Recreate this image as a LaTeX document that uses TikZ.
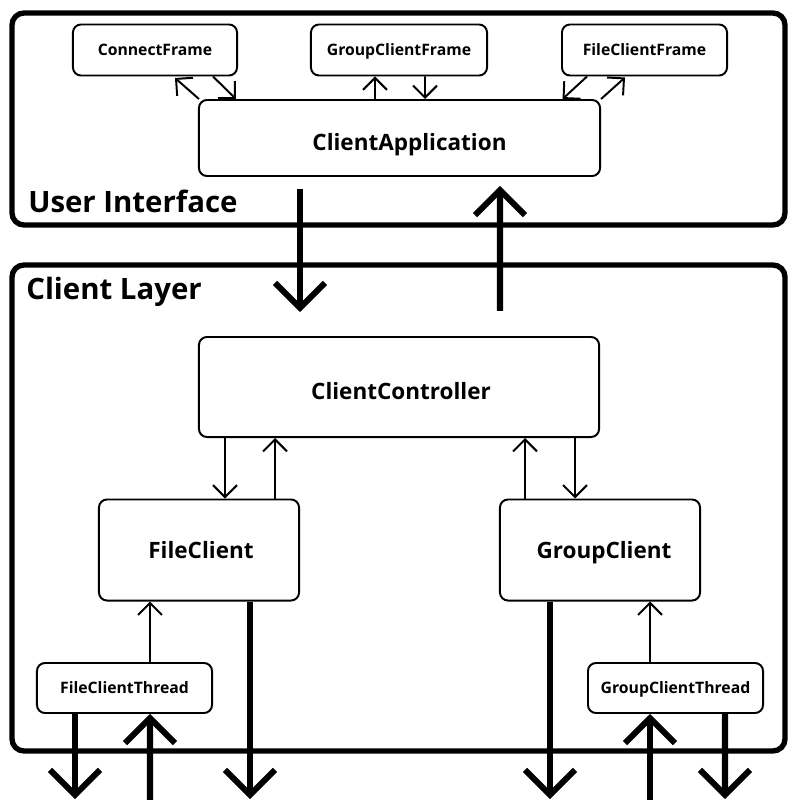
\documentclass[tikz,border=0pt]{standalone}
\usepackage{fontspec}
\setmainfont{Open Sans}
\usetikzlibrary{arrows.meta,calc}

\tikzset{
  box/.style={draw, line width=1.4pt, rounded corners=0.2cm, inner sep=0pt, fill=white, text depth=0pt},
  bigbox/.style={box, font=\fontsize{16}{20}\selectfont\bfseries},
  smallbox/.style={box, font=\fontsize{11.2}{13}\selectfont\bfseries},
  lowtext/.style={text height=17.9pt},
  layer/.style={draw, line width=3.8pt, rounded corners=0.3cm},
  title/.style={anchor=base west, inner sep=0pt, font=\fontsize{20.9}{25}\selectfont\bfseries},
  thinarrow/.style={line width=1.4pt, -{Straight Barb[length=0.3cm,width=0.6cm]}},
  thickarrow/.style={line width=4.3pt, -{Straight Barb[length=0.62cm,width=1.25cm]}}
}

\begin{document}
\begin{tikzpicture}[x=0.025cm, y=-0.025cm]
        \fill[white] (0,0) rectangle (800,800);
        \useasboundingbox (0,0) rectangle (800,800);

        % Layers
        \draw[layer] (12,13) rectangle (785,225);
        \draw[layer] (12,265) rectangle (785,751);
        \node[title] (uilabel) at (28,213) {User Interface};
        \node[title] (cllabel) at (26,299) {Client Layer};

        % User interface
        \node[smallbox, minimum width=4.1cm, minimum height=1.275cm] (cf) at (155,50) {ConnectFrame};
        \node[smallbox, minimum width=4.4cm, minimum height=1.275cm] (gcf) at (399,50) {GroupClientFrame};
        \node[smallbox, minimum width=4.125cm, minimum height=1.275cm] (fcf) at (644.5,50) {FileClientFrame};
        \node[bigbox, lowtext, minimum width=10.025cm, minimum height=1.9cm] (app) at (399.5,138) {\hspace*{0.5cm}ClientApplication};

        % Client layer
        \node[bigbox, lowtext, minimum width=10cm, minimum height=2.5cm] (ctrl) at (399,387) {\hspace*{0.1cm}ClientController};
        \node[bigbox, minimum width=5cm, minimum height=2.525cm] (fc) at (199,550) {\hspace*{0.1cm}FileClient};
        \node[bigbox, minimum width=5cm, minimum height=2.525cm] (gc) at (600,550) {\hspace*{0.2cm}GroupClient};
        \node[smallbox, minimum width=4.375cm, minimum height=1.25cm] (fct) at (124.5,688) {FileClientThread};
        \node[smallbox, minimum width=4.375cm, minimum height=1.25cm] (gct) at (675.5,688) {GroupClientThread};

        % Outside ends
        \coordinate (fctout) at (75,799);
        \coordinate (fctin) at (150,800);
        \coordinate (fcout) at (250,799);
        \coordinate (gcout) at (550,799);
        \coordinate (gctin) at (650,800);
        \coordinate (gctout) at (725,799);

        % Frames <-> application
        \draw[thinarrow] ($(app.north west)+(1,0)$) -- ($(cf.south)+(20,1.5)$);
        \draw[thinarrow] ($(cf.south)+(58,0)$) -- ($(app.north west)+(38,0)$);
        \draw[thinarrow] ($(app.north)+(-24.5,0)$) -- ($(gcf.south)+(-24,0)$);
        \draw[thinarrow] ($(gcf.south)+(26,0)$) -- ($(app.north)+(25.5,0)$);
        \draw[thinarrow] ($(fcf.south)+(-57.5,0)$) -- ($(app.north east)+(-38.5,0)$);
        \draw[thinarrow] ($(app.north east)+(0,0)$) -- ($(fcf.south)+(-19.5,1)$);

        % Between layers
        \draw[thickarrow, shorten <=0.3cm, shorten >=0.6cm] ($(app.south)+(-99.5,0)$) -- ($(ctrl.north)+(-99,0)$);
        \draw[thickarrow, shorten <=0.625cm, shorten >=0.225cm] ($(ctrl.north)+(101,0)$) -- ($(app.south)+(100.5,0)$);

        % Controller <-> clients
        \draw[thinarrow] ($(ctrl.south)+(-174,0)$) -- ($(fc.north)+(26,0)$);
        \draw[thinarrow] ($(fc.north)+(76,0)$) -- ($(ctrl.south)+(-124,0)$);
        \draw[thinarrow] ($(gc.north)+(-75,0)$) -- ($(ctrl.south)+(126,0)$);
        \draw[thinarrow] ($(ctrl.south)+(176,0)$) -- ($(gc.north)+(-25,0)$);

        % Threads
        \draw[thinarrow] ($(fct.north)+(25.5,0)$) -- ($(fc.south)+(-49,0)$);
        \draw[thinarrow] ($(gct.north)+(-25.5,0)$) -- ($(gc.south)+(50,0)$);

        % Server side
        \draw[thickarrow] ($(fct.south)+(-49.5,0)$) -- (fctout);
        \draw[thickarrow] (fctin) -- ($(fct.south)+(25.5,0)$);
        \draw[thickarrow] ($(fc.south)+(51,0)$) -- (fcout);
        \draw[thickarrow] ($(gc.south)+(-50,0)$) -- (gcout);
        \draw[thickarrow] (gctin) -- ($(gct.south)+(-25.5,0)$);
        \draw[thickarrow] ($(gct.south)+(49.5,0)$) -- (gctout);
    \end{tikzpicture}
\end{document}
